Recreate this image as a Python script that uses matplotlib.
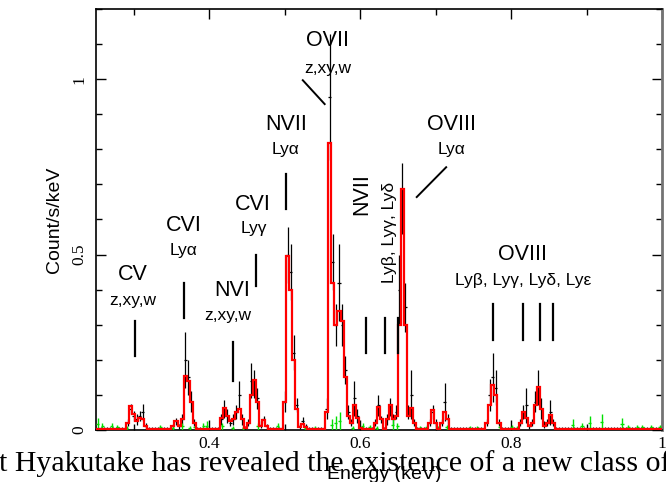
import numpy as np
import matplotlib
matplotlib.use('Agg')
import matplotlib.pyplot as plt
from matplotlib.ticker import MultipleLocator

# spectrum binning (keV)
e_lo = 0.25
bin_width = 0.004
n_bins = 188

# emission-line regions: left edge of first bin, then per-bin values
line_starts = [0.290, 0.350, 0.362, 0.414, 0.450, 0.466, 0.498, 0.518, 0.554, 0.586,
               0.618, 0.634, 0.646, 0.666, 0.690, 0.706, 0.766, 0.810, 0.826, 0.846]
line_model = [
    [0.02, 0.068, 0.045, 0.025, 0.035, 0.03, 0.01],
    [0.012, 0.026, 0.01],
    [0.03, 0.155, 0.14, 0.08, 0.02],
    [0.035, 0.063, 0.04, 0.025, 0.03, 0.05, 0.06, 0.03, 0.005],
    [0.02, 0.10, 0.142, 0.08, 0.02],
    [0.012, 0.028, 0.012],
    [0.08, 0.496, 0.40, 0.20, 0.06],
    [0.008, 0.018, 0.008],
    [0.05, 0.818, 0.42, 0.30, 0.34, 0.31, 0.15, 0.04],
    [0.02, 0.07, 0.035, 0.005],
    [0.02, 0.066, 0.03],
    [0.03, 0.07, 0.03],
    [0.04, 0.30, 0.687, 0.30, 0.04],
    [0.063, 0.02],
    [0.02, 0.057, 0.02],
    [0.02, 0.052, 0.03],
    [0.02, 0.07, 0.128, 0.10, 0.02],
    [0.02, 0.05, 0.035, 0.01],
    [0.02, 0.07, 0.123, 0.06, 0.01],
    [0.02, 0.043, 0.02],
]
line_data = [
    [0.02, 0.06, 0.04, 0.03, 0.04, 0.05, 0.01],
    [0.01, 0.025, 0.01],
    [0.03, 0.20, 0.15, 0.08, 0.02],
    [0.03, 0.06, 0.04, 0.02, 0.03, 0.05, 0.10, 0.03, 0.005],
    [0.02, 0.14, 0.13, 0.09, 0.02],
    [0.015, 0.03, 0.01],
    [0.08, 0.50, 0.45, 0.22, 0.07],
    [0.01, 0.025, 0.01],
    [0.06, 0.95, 0.48, 0.30, 0.42, 0.30, 0.17, 0.05],
    [0.02, 0.09, 0.04, 0.005],
    [0.02, 0.07, 0.03],
    [0.03, 0.065, 0.03],
    [0.05, 0.40, 0.66, 0.35, 0.05],
    [0.10, 0.02],
    [0.02, 0.05, 0.02],
    [0.02, 0.08, 0.03],
    [0.02, 0.10, 0.15, 0.12, 0.02],
    [0.02, 0.05, 0.07, 0.01],
    [0.02, 0.08, 0.12, 0.06, 0.015],
    [0.02, 0.05, 0.02],
]
line_err = [
    [0.01, 0.015, 0.015, 0.015, 0.015, 0.025, 0.01],
    [0.008, 0.01, 0.008],
    [0.015, 0.08, 0.05, 0.03, 0.01],
    [0.015, 0.025, 0.02, 0.01, 0.015, 0.02, 0.04, 0.015, 0.005],
    [0.01, 0.05, 0.04, 0.03, 0.01],
    [0.01, 0.01, 0.008],
    [0.03, 0.08, 0.08, 0.05, 0.02],
    [0.008, 0.012, 0.008],
    [0.03, 0.18, 0.08, 0.06, 0.11, 0.06, 0.04, 0.02],
    [0.01, 0.05, 0.02, 0.005],
    [0.01, 0.03, 0.01],
    [0.015, 0.025, 0.015],
    [0.02, 0.10, 0.10, 0.07, 0.02],
    [0.07, 0.01],
    [0.01, 0.02, 0.01],
    [0.01, 0.055, 0.015],
    [0.01, 0.045, 0.07, 0.05, 0.01],
    [0.01, 0.02, 0.05, 0.008],
    [0.01, 0.03, 0.05, 0.03, 0.01],
    [0.01, 0.035, 0.01],
]
continuum_model = 0.002
continuum_data = 0.004
continuum_err = 0.004

# background spectrum: isolated non-zero bins
bkg_energy = [0.2526, 0.258, 0.271, 0.278, 0.291, 0.335, 0.352, 0.364, 0.3745, 0.381,
              0.392, 0.397, 0.417, 0.431, 0.445, 0.4646, 0.491, 0.527, 0.540, 0.5626,
              0.568, 0.573, 0.590, 0.6036, 0.613, 0.622, 0.643, 0.649, 0.679, 0.688,
              0.703, 0.715, 0.745, 0.755, 0.785, 0.801, 0.808, 0.882, 0.894, 0.904,
              0.920, 0.947, 0.955, 0.967, 0.974, 0.986, 0.997]
bkg_height = [0.035, 0.02, 0.02, 0.015, 0.01, 0.015, 0.012, 0.02, 0.01, 0.015,
              0.02, 0.025, 0.02, 0.012, 0.012, 0.02, 0.02, 0.01, 0.012, 0.03,
              0.04, 0.05, 0.012, 0.02, 0.015, 0.012, 0.03, 0.02, 0.012, 0.015,
              0.01, 0.015, 0.012, 0.012, 0.015, 0.015, 0.012, 0.03, 0.02, 0.04,
              0.045, 0.035, 0.015, 0.015, 0.015, 0.015, 0.015]

# line identifications
label_text = ['CV', 'z,xy,w', 'CVI', 'Ly\u03b1', 'NVI', 'z,xy,w', 'CVI', 'Ly\u03b3',
              'NVII', 'Ly\u03b1', 'OVII', 'z,xy,w', 'NVII', 'Ly\u03b2, Ly\u03b3, Ly\u03b4',
              'OVIII', 'Ly\u03b1', 'OVIII', 'Ly\u03b2, Ly\u03b3, Ly\u03b4, Ly\u03b5']
label_e = [0.299, 0.299, 0.3666, 0.3666, 0.430, 0.425, 0.458, 0.459,
           0.5017, 0.5017, 0.557, 0.557, 0.6025, 0.6385,
           0.7215, 0.7215, 0.8156, 0.8156]
label_v = [0.444, 0.368, 0.584, 0.513, 0.399, 0.325, 0.644, 0.573,
           0.872, 0.800, 1.111, 1.031, 0.673, 0.562,
           0.87, 0.80, 0.501, 0.427]
label_big = [True, False, True, False, True, False, True, False,
             True, False, True, False, True, False,
             True, False, True, False]
label_rot = [0, 0, 0, 0, 0, 0, 0, 0, 0, 0, 0, 0, 90, 90, 0, 0, 0, 0]

tick_e = [0.302, 0.366, 0.431, 0.4615, 0.5017, 0.6075, 0.6327, 0.650,
          0.7756, 0.8153, 0.8378, 0.8550]
tick_lo = [0.21, 0.32, 0.14, 0.41, 0.63, 0.22, 0.22, 0.22,
           0.256, 0.256, 0.256, 0.256]
tick_hi = [0.31, 0.42, 0.25, 0.50, 0.73, 0.32, 0.32, 0.32,
           0.36, 0.36, 0.36, 0.36]

slant_e = [(0.524, 0.553), (0.675, 0.714)]
slant_v = [(0.997, 0.929), (0.664, 0.749)]

# build binned arrays
edges = e_lo + bin_width * np.arange(n_bins + 1)
centers = 0.5 * (edges[:-1] + edges[1:])
model = np.full(n_bins, continuum_model)
data = np.full(n_bins, continuum_data)
err = np.full(n_bins, continuum_err)
for start, m, d, s in zip(line_starts, line_model, line_data, line_err):
    k = int(round((start - e_lo) / bin_width))
    model[k:k + len(m)] = m
    data[k:k + len(d)] = d
    err[k:k + len(s)] = s

sans = ['Liberation Sans', 'DejaVu Sans']
serif = ['Liberation Serif', 'DejaVu Serif']

fig = plt.figure(figsize=(6.66, 4.82), dpi=100)
ax = fig.add_axes([96 / 666, 52 / 482, 566 / 666, 421 / 482])

ax.errorbar(centers, data, yerr=err, xerr=bin_width / 2, fmt='none',
            ecolor='black', elinewidth=0.9, capsize=0, zorder=2)

bkg = np.array(bkg_height)
ax.errorbar(bkg_energy, bkg / 2, yerr=bkg / 2, xerr=bin_width / 2, fmt='none',
            ecolor='#00e000', elinewidth=1.0, capsize=0, zorder=3)

ax.stairs(model, edges, color='#ff0000', linewidth=1.6, zorder=4)

for txt, e, v, big, rot in zip(label_text, label_e, label_v, label_big, label_rot):
    ax.text(e, v, txt, ha='center', va='center', rotation=rot,
            fontsize=15.5 if big else 12.5, family=sans, zorder=5)

for e, lo, hi in zip(tick_e, tick_lo, tick_hi):
    ax.plot([e, e], [lo, hi], color='black', linewidth=1.6, zorder=5)

for es, vs in zip(slant_e, slant_v):
    ax.plot(es, vs, color='black', linewidth=1.4, zorder=5)

ax.set_xlim(0.25, 1.0)
ax.set_ylim(0, 1.2)

ax.xaxis.set_minor_locator(MultipleLocator(0.1))
ax.yaxis.set_minor_locator(MultipleLocator(0.1))
ax.set_xticks([0.4, 0.6, 0.8, 1.0])
ax.set_xticklabels(['0.4', '0.6', '0.8', '1'])
ax.set_yticks([0, 0.5, 1.0])
ax.set_yticklabels(['0', '0.5', '1'])
ax.tick_params(which='both', direction='in', top=True, right=True, width=1.0)
ax.tick_params(which='major', length=7)
ax.tick_params(which='minor', length=4)
ax.tick_params(axis='x', pad=4, labelsize=12.5)
ax.tick_params(axis='y', pad=6, labelsize=12.5, labelrotation=90)
for lab in ax.get_xticklabels() + ax.get_yticklabels():
    lab.set_family(serif)
for lab in ax.get_yticklabels():
    lab.set_va('center')

for sp in ax.spines.values():
    sp.set_linewidth(1.2)
ax.spines['right'].set_color('0.45')
ax.spines['right'].set_linewidth(2.0)

ax.set_ylabel('Count/s/keV', fontsize=14, family=sans, labelpad=6)
ax.set_xlabel('Energy (keV)', fontsize=14, family=sans, labelpad=6)
ax.xaxis.set_label_coords(0.51, -0.085)

fig.text(-0.002, 11 / 482, 't Hyakutake has revealed the existence of a new class of',
         fontsize=21.5, family=serif, ha='left', va='baseline')

fig.savefig('out.png', dpi=100)
